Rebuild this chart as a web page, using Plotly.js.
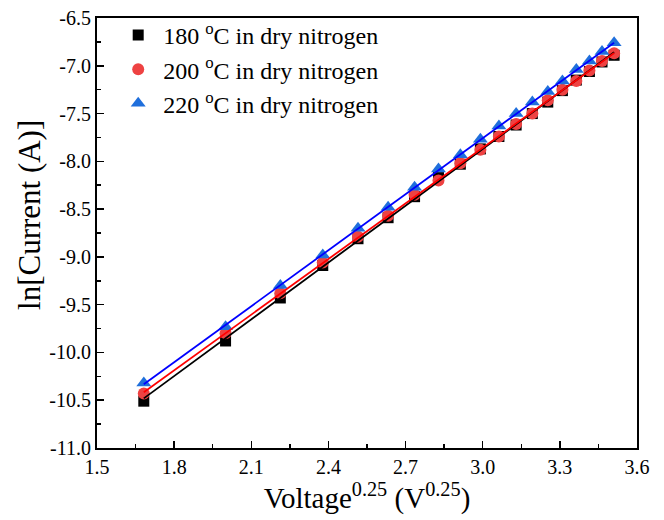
<!DOCTYPE html>
<html>
<head>
<meta charset="utf-8">
<script src="https://cdn.plot.ly/plotly-3.0.1.min.js"></script>
<style>html,body{margin:0;padding:0;background:#fff;}#chart{width:664px;height:520px;}</style>
</head>
<body>
<div id="chart"></div>
<script>
// Voltage^0.25 values
const xVals = [1.682, 2.000, 2.213, 2.378, 2.515, 2.632, 2.735, 2.828, 2.913, 2.991, 3.063, 3.130, 3.193, 3.253, 3.310, 3.364, 3.415, 3.464, 3.511];
// ln[Current (A)]
const y180 = [-10.51, -9.88, -9.43, -9.09, -8.81, -8.59, -8.37, -8.17, -8.03, -7.87, -7.74, -7.62, -7.50, -7.38, -7.26, -7.15, -7.06, -6.96, -6.89];
const y200 = [-10.43, -9.80, -9.38, -9.06, -8.79, -8.57, -8.35, -8.20, -8.02, -7.88, -7.74, -7.61, -7.50, -7.36, -7.25, -7.16, -7.05, -6.95, -6.87];
const y220 = [-10.32, -9.73, -9.30, -8.98, -8.70, -8.48, -8.27, -8.08, -7.93, -7.77, -7.63, -7.50, -7.38, -7.27, -7.16, -7.04, -6.95, -6.85, -6.76];
const seriesNames = ["180 <sup>o</sup>C in dry nitrogen", "200 <sup>o</sup>C in dry nitrogen", "220 <sup>o</sup>C in dry nitrogen"];
const xTickVals = [1.5, 1.8, 2.1, 2.4, 2.7, 3.0, 3.3, 3.6];
const xTickText = ["1.5", "1.8", "2.1", "2.4", "2.7", "3.0", "3.3", "3.6"];
const yTickVals = [-11.0, -10.5, -10.0, -9.5, -9.0, -8.5, -8.0, -7.5, -7.0, -6.5];
const yTickText = ["-11.0", "-10.5", "-10.0", "-9.5", "-9.0", "-8.5", "-8.0", "-7.5", "-7.0", "-6.5"];
const xTitle = "Voltage<sup>0.25</sup> (V<sup>0.25</sup>)";
const yTitle = "ln[Current (A)]";

function fit(x, y) {
  const n = x.length;
  let sx = 0, sy = 0, sxx = 0, sxy = 0;
  for (let i = 0; i < n; i++) { sx += x[i]; sy += y[i]; sxx += x[i]*x[i]; sxy += x[i]*y[i]; }
  const b = (n*sxy - sx*sy) / (n*sxx - sx*sx);
  const a = (sy - b*sx) / n;
  const xs = [Math.min(...x), Math.max(...x)];
  return {x: xs, y: xs.map(v => a + b*v)};
}

const font = "Times New Roman, Liberation Serif, serif";
const markerDefs = [
  {symbol: "square", color: "#000000", size: 11},
  {symbol: "circle", color: "#ee4242", size: 12},
  {symbol: "triangle-up", color: "#1f6fdc", size: 13}
];
const lineColors = ["#000000", "#ff0000", "#0000ff"];
const ys = [y180, y200, y220];

const traces = [];
ys.forEach((y, i) => {
  traces.push({
    x: xVals, y: y, type: "scatter", mode: "markers", name: seriesNames[i],
    marker: {symbol: markerDefs[i].symbol, color: markerDefs[i].color, size: markerDefs[i].size, line: {width: 0}}
  });
});
ys.forEach((y, i) => {
  const f = fit(xVals, y);
  traces.push({
    x: f.x, y: f.y, type: "scatter", mode: "lines", showlegend: false, hoverinfo: "skip",
    line: {color: lineColors[i], width: 1.8}
  });
});

const layout = {
  width: 664, height: 520,
  margin: {l: 97, r: 27, t: 18, b: 72},
  paper_bgcolor: "#fff", plot_bgcolor: "#fff",
  font: {family: font, color: "#000", size: 20},
  showlegend: true,
  legend: {x: 0.03, y: 1.012, xanchor: "left", yanchor: "top", bgcolor: "rgba(0,0,0,0)",
           font: {family: font, size: 24, color: "#000"}, itemwidth: 40, tracegroupgap: 0},
  xaxis: {
    range: [1.5, 3.6], tickmode: "array", tickvals: xTickVals, ticktext: xTickText,
    showgrid: false, zeroline: false, showline: true, linecolor: "#000", linewidth: 2, mirror: true,
    ticks: "inside", ticklen: 7, tickwidth: 1.5, tickcolor: "#000",
    minor: {dtick: 0.15, tick0: 1.5, ticks: "inside", ticklen: 4, tickwidth: 1.5, tickcolor: "#000", showgrid: false},
    tickfont: {family: font, size: 20, color: "#000"},
    title: {text: xTitle, font: {family: font, size: 29}, standoff: 6}
  },
  yaxis: {
    range: [-11.0, -6.5], tickmode: "array", tickvals: yTickVals, ticktext: yTickText,
    showgrid: false, zeroline: false, showline: true, linecolor: "#000", linewidth: 2, mirror: true,
    ticks: "inside", ticklen: 7, tickwidth: 1.5, tickcolor: "#000",
    minor: {dtick: 0.25, tick0: -11, ticks: "inside", ticklen: 4, tickwidth: 1.5, tickcolor: "#000", showgrid: false},
    tickfont: {family: font, size: 20, color: "#000"}
  },
  annotations: [{
    text: yTitle, xref: "paper", yref: "paper", x: -0.124, y: 0.542,
    xanchor: "center", yanchor: "middle", textangle: -90, showarrow: false,
    font: {family: font, size: 31, color: "#000"}
  }]
};

Plotly.newPlot("chart", traces, layout, {displayModeBar: false, staticPlot: true});
</script>
</body>
</html>
